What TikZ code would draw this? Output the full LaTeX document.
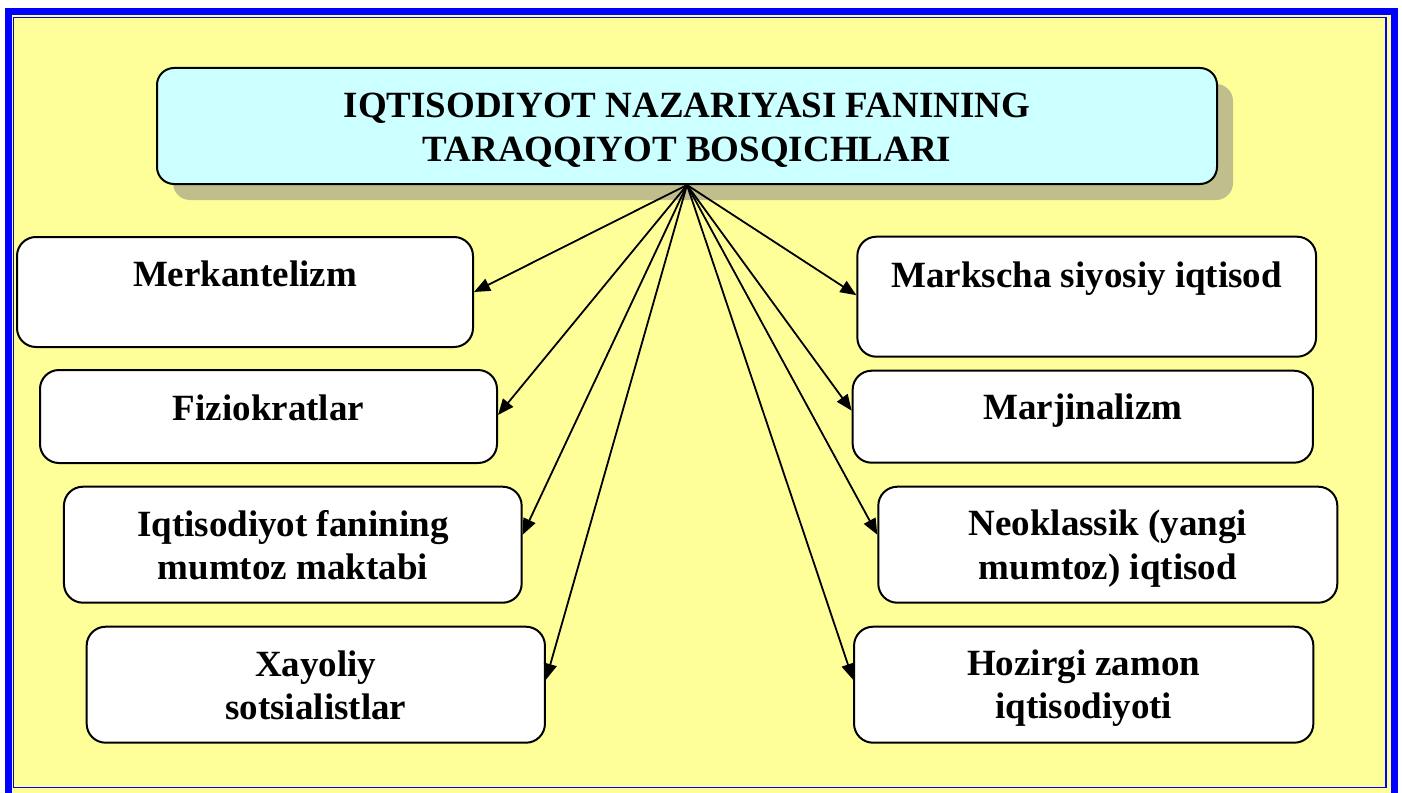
\documentclass[tikz,border=0pt]{standalone}
\usepackage{fontspec}
\setmainfont{Liberation Serif}
\usetikzlibrary{arrows.meta,shadows}
\definecolor{bgyellow}{RGB}{255,255,153}
\definecolor{framblue}{RGB}{0,0,255}
\definecolor{titlecyan}{RGB}{204,255,255}
\definecolor{shadowcol}{RGB}{192,190,140}
\tikzset{
  box/.style={draw=black, line width=2pt, fill=white, rounded corners=19pt, inner sep=0pt},
  titlebox/.style={draw=black, line width=2pt, fill=titlecyan, rounded corners=17pt, inner sep=0pt,
    drop shadow={shadow xshift=16pt, shadow yshift=-16pt, fill=shadowcol, opacity=1}},
  txt/.style={anchor=base, inner sep=0pt, font=\fontsize{37}{42.5}\selectfont\bfseries},
  conn/.style={draw=black, line width=1.8pt, -{Triangle[length=16pt,width=13pt]}}
}
\begin{document}
\begin{tikzpicture}[x=1pt,y=-1pt]
\useasboundingbox (0,0) rectangle (1402,792);
\fill[white] (0,0) rectangle (1402,792);
% frame
\fill[bgyellow] (5,8) rectangle (1398,800);
\draw[framblue, line width=7pt] (8.5,11.5) rectangle (1394,796);
\draw[framblue, line width=1.3pt] (13.8,17.8) rectangle (1386,787.8);
% title
\node[titlebox, minimum width=1060pt, minimum height=116pt] (title) at (687,126) {};
\node[txt] (t1) at (687,117.7) {IQTISODIYOT NAZARIYASI FANINING};
\node[txt] (t2) at (687,161) {TARAQQIYOT BOSQICHLARI};
% left boxes
\node[box, minimum width=456pt, minimum height=110pt] (merk) at (245,292) {};
\node[txt] (merkT) at (245,286) {Merkantelizm};
\node[box, minimum width=457pt, minimum height=93pt] (fizio) at (268.5,416.5) {};
\node[txt] (fizioT) at (268.5,420) {Fiziokratlar};
\node[box, minimum width=457.7pt, minimum height=116pt] (mumtoz) at (292.8,544.7) {};
\node[txt] (mumtozA) at (292.8,536.7) {Iqtisodiyot fanining};
\node[txt] (mumtozB) at (292.8,579) {mumtoz maktabi};
\node[box, minimum width=458.3pt, minimum height=116pt] (xayol) at (315.8,684.7) {};
\node[txt] (xayolA) at (315.8,676.7) {Xayoliy};
\node[txt] (xayolB) at (315.8,719.3) {sotsialistlar};
% right boxes
\node[box, minimum width=458.7pt, minimum height=120pt] (marks) at (1086.7,296.7) {};
\node[txt] (marksT) at (1086.7,287) {Markscha siyosiy iqtisod};
\node[box, minimum width=460.3pt, minimum height=92pt] (marj) at (1082.8,416.7) {};
\node[txt] (marjT) at (1082.8,419) {Marjinalizm};
\node[box, minimum width=459pt, minimum height=116pt] (neo) at (1107.8,544.7) {};
\node[txt] (neoA) at (1107.8,535) {Neoklassik (yangi};
\node[txt] (neoB) at (1107.8,579) {mumtoz) iqtisod};
\node[box, minimum width=459.3pt, minimum height=116pt] (hoz) at (1083.7,684.7) {};
\node[txt] (hozA) at (1083.7,675) {Hozirgi zamon};
\node[txt] (hozB) at (1083.7,718) {iqtisodiyoti};
% connectors
\draw[conn] (title.south) -- (merk.east);
\draw[conn] (title.south) -- ([yshift=1.5pt]fizio.east);
\draw[conn] (title.south) -- ([yshift=10pt]mumtoz.east);
\draw[conn] (title.south) -- ([yshift=5pt]xayol.east);
\draw[conn] (title.south) -- ([yshift=1.5pt]marks.west);
\draw[conn] (title.south) -- ([yshift=6pt]marj.west);
\draw[conn] (title.south) -- ([yshift=10pt]neo.west);
\draw[conn] (title.south) -- ([yshift=5pt]hoz.west);
\end{tikzpicture}
\end{document}
